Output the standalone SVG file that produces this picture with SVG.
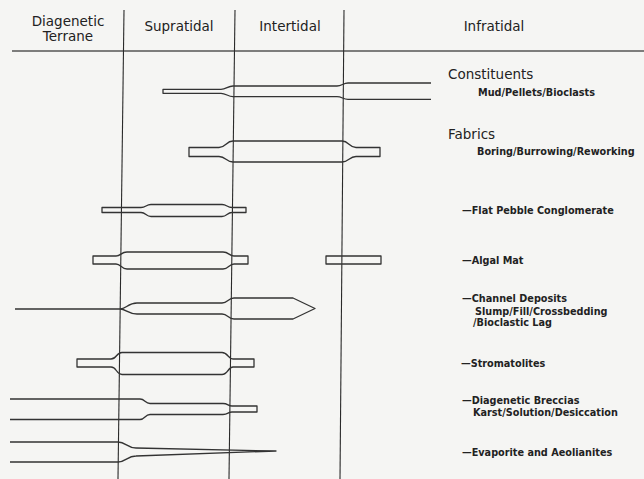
<svg xmlns="http://www.w3.org/2000/svg" width="644" height="479" viewBox="0 0 644 479">
<style>
.bg{fill:#f5f5f3}
.grid{stroke:#2a2a2a;stroke-width:1.1;fill:none}
.hline{stroke:#555;stroke-width:1.6;fill:none}
.bar{stroke:#333;stroke-width:1.3;fill:none;stroke-linejoin:round}
.hdr{font-family:"DejaVu Sans",sans-serif;font-size:13.5px;fill:#222}
.big{font-family:"DejaVu Sans",sans-serif;font-size:13.5px;fill:#222}
.lbl{font-family:"DejaVu Sans",sans-serif;font-size:9.7px;font-weight:bold;fill:#222}
</style>
<rect class="bg" x="0" y="0" width="644" height="479"/>
<g id="header">
  <line class="hline" x1="12" y1="51" x2="644" y2="51"/>
  <text class="hdr" x="68" y="26" text-anchor="middle">Diagenetic</text>
  <text class="hdr" x="68" y="41" text-anchor="middle">Terrane</text>
  <text class="hdr" x="179" y="31" text-anchor="middle">Supratidal</text>
  <text class="hdr" x="290" y="31" text-anchor="middle">Intertidal</text>
  <text class="hdr" x="494" y="31" text-anchor="middle">Infratidal</text>
</g>
<g id="grid">
  <line class="grid" x1="124" y1="10" x2="118" y2="479"/>
  <line class="grid" x1="235" y1="10" x2="229" y2="479"/>
  <line class="grid" x1="344" y1="10" x2="340" y2="479"/>
</g>
<g id="constituents">
  <path class="bar" d="M431,83 L348,83 C343,83 342,86 337,86 L233,86 C228,86 226,89.3 221,89.3 L163,89.3 L163,93.3 L221,93.3 C226,93.3 228,96.7 233,96.7 L337,96.7 C342,96.7 343,99.3 348,99.3 L431,99.3"/>
  <text class="big" x="448" y="79">Constituents</text>
  <text class="lbl" x="478" y="95.5">Mud/Pellets/Bioclasts</text>
</g>
<g id="fabrics">
  <path class="bar" d="M189,147.5 L219,147.5 C226,147.5 226,141 233,141 L342,141 C349,141 349,147.5 356,147.5 L380,147.5 L380,156.5 L356,156.5 C349,156.5 349,162 342,162 L233,162 C226,162 226,156.5 219,156.5 L189,156.5 Z"/>
  <text class="big" x="448" y="138.5">Fabrics</text>
  <text class="lbl" x="477" y="155">Boring/Burrowing/Reworking</text>
</g>
<g id="flat-pebble">
  <path class="bar" d="M102,207.5 L141,207.5 C146,207.5 146,204.5 151,204.5 L222,204.5 C227,204.5 227,207.5 232,207.5 L246,207.5 L246,212.5 L232,212.5 C227,212.5 227,216.5 222,216.5 L151,216.5 C146,216.5 146,212.5 141,212.5 L102,212.5 Z"/>
  <text class="lbl" x="462" y="214">—Flat Pebble Conglomerate</text>
</g>
<g id="algal-mat">
  <path class="bar" d="M93,256 L116,256 C121,256 121,252 127,252 L223,252 C229,252 229,256 234,256 L248,256 L248,264 L234,264 C229,264 229,269 223,269 L127,269 C121,269 121,264 116,264 L93,264 Z"/>
  <rect class="bar" x="326" y="256" width="55" height="8"/>
  <text class="lbl" x="462" y="264">—Algal Mat</text>
</g>
<g id="channel-deposits">
  <path class="bar" d="M15,309 L120,309 C126,309 128,303 137,303 L222,303 C228,303 228,298 234,298 L293,298 L315,308.5 L293,319 L234,319 C228,319 228,314 222,314 L137,314 C128,314 126,309 120,309"/>
  <text class="lbl" x="462" y="302">—Channel Deposits</text>
  <text class="lbl" x="475" y="314.5">Slump/Fill/Crossbedding</text>
  <text class="lbl" x="473" y="326">/Bioclastic Lag</text>
</g>
<g id="stromatolites">
  <path class="bar" d="M77,359 L111,359 C117,359 116,352.5 122,352.5 L222,352.5 C228,352.5 228,359 233,359 L254,359 L254,367 L233,367 C228,367 228,374.5 222,374.5 L122,374.5 C116,374.5 117,367 111,367 L77,367 Z"/>
  <text class="lbl" x="461" y="366.5">—Stromatolites</text>
</g>
<g id="diagenetic-breccias">
  <path class="bar" d="M10,399 L140,399 C145,399 145,403.5 150,403.5 L223,403.5 C228,403.5 228,406 232,406 L257,406 L257,412 L232,412 C228,412 228,414.5 223,414.5 L150,414.5 C145,414.5 145,419.5 140,419.5 L10,419.5"/>
  <text class="lbl" x="462" y="403.5">—Diagenetic Breccias</text>
  <text class="lbl" x="473" y="415.5">Karst/Solution/Desiccation</text>
</g>
<g id="evaporite">
  <path class="bar" d="M10,442 L118,442 C126,442 127,448 136,448 L276,451 L136,456 C127,456 126,462 118,462 L10,462"/>
  <text class="lbl" x="462" y="456">—Evaporite and Aeolianites</text>
</g>
</svg>
